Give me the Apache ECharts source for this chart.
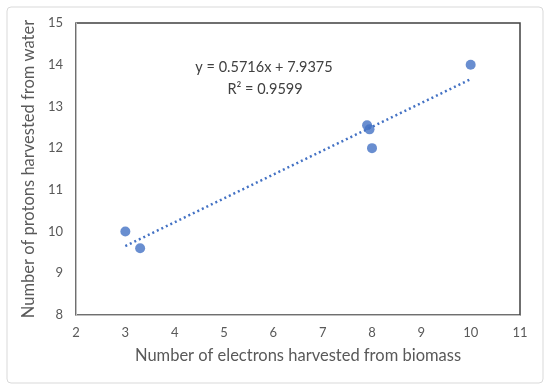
<!DOCTYPE html>
<html>
<head>
<meta charset="utf-8">
<script src="https://cdn.jsdelivr.net/npm/echarts@6/dist/echarts.min.js"></script>
<style>
  html, body { margin: 0; padding: 0; background: #fff; }
  #chart { width: 550px; height: 391px; }
</style>
</head>
<body>
<div id="chart"></div>
<script>
// data
var electrons = [3, 3.3, 7.9, 7.95, 8, 10]
var protons = [10, 9.6, 12.55, 12.45, 12, 14]
var slope = 0.5716
var intercept = 7.9375
var xTicks = [2, 3, 4, 5, 6, 7, 8, 9, 10, 11]
var yTicks = [8, 9, 10, 11, 12, 13, 14, 15]

var points = electrons.map(function (x, i) { return [x, protons[i]] })
var xMin = Math.min.apply(null, electrons)
var xMax = Math.max.apply(null, electrons)
var trend = [[xMin, slope * xMin + intercept], [xMax, slope * xMax + intercept]]

var font = 'Lato'

var myChart = echarts.init(document.getElementById('chart'))
var option = {
  animation: false,
  grid: {
    left: 76, right: 30, top: 23, bottom: 76,
    show: true, borderColor: '#404040', borderWidth: 1.5
  },
  xAxis: {
    type: 'value',
    min: xTicks[0], max: xTicks[xTicks.length - 1], interval: 1,
    name: 'Number of electrons harvested from biomass',
    nameLocation: 'middle', nameGap: 32,
    nameTextStyle: { color: '#595959', fontSize: 16.5, fontFamily: font },
    axisLine: { lineStyle: { color: '#bfbfbf' } },
    axisTick: { show: false },
    splitLine: { show: false },
    axisLabel: { color: '#595959', fontSize: 13, fontFamily: font, margin: 11 }
  },
  yAxis: {
    type: 'value',
    min: yTicks[0], max: yTicks[yTicks.length - 1], interval: 1,
    name: 'Number of protons harvested from water',
    nameLocation: 'middle', nameGap: 31,
    nameTextStyle: { color: '#595959', fontSize: 16.5, fontFamily: font },
    axisLine: { show: true, lineStyle: { color: '#bfbfbf' } },
    axisTick: { show: false },
    splitLine: { show: false },
    axisLabel: { color: '#595959', fontSize: 13, fontFamily: font, margin: 13 }
  },
  graphic: [
    {
      type: 'rect',
      shape: { x: 7, y: 7, width: 536, height: 376, r: 4 },
      style: { fill: 'none', stroke: '#d9d9d9', lineWidth: 1 }
    },
    {
      type: 'text', x: 264, y: 67,
      style: {
        text: 'y = 0.5716x + 7.9375',
        fill: '#404040', font: '14.5px ' + font,
        align: 'center', textAlign: 'center',
        verticalAlign: 'middle', textVerticalAlign: 'middle'
      }
    },
    {
      type: 'text', x: 265, y: 89,
      style: {
        text: 'R² = 0.9599',
        fill: '#404040', font: '14.5px ' + font,
        align: 'center', textAlign: 'center',
        verticalAlign: 'middle', textVerticalAlign: 'middle'
      }
    }
  ],
  series: [
    {
      type: 'line',
      data: trend,
      symbol: 'none',
      lineStyle: { color: '#4472C4', width: 2.5, type: [2, 3] },
      z: 1
    },
    {
      type: 'scatter',
      data: points,
      symbolSize: 10,
      itemStyle: { color: '#4472C4' },
      z: 2
    }
  ]
}
myChart.setOption(option)
</script>
</body>
</html>
